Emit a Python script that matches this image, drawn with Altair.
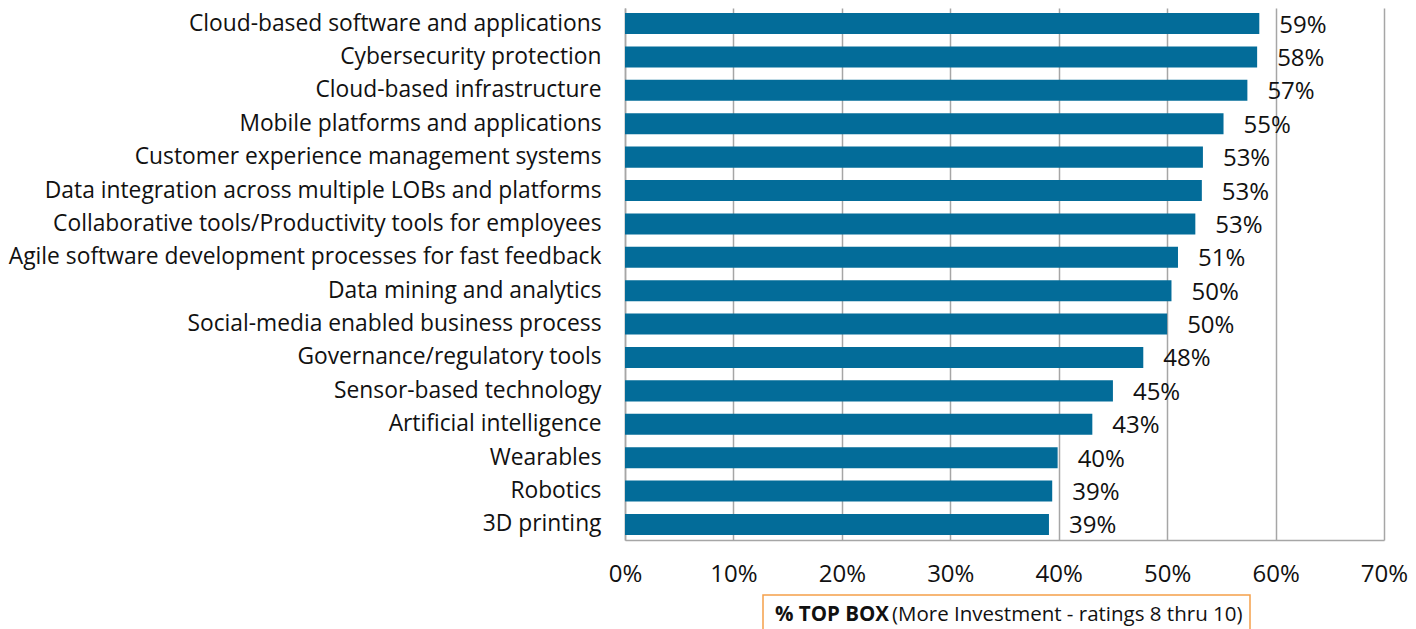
import altair as alt
import pandas as pd

categories = [
    "Cloud-based software and applications",
    "Cybersecurity protection",
    "Cloud-based infrastructure",
    "Mobile platforms and applications",
    "Customer experience management systems",
    "Data integration across multiple LOBs and platforms",
    "Collaborative tools/Productivity tools for employees",
    "Agile software development processes for fast feedback",
    "Data mining and analytics",
    "Social-media enabled business process",
    "Governance/regulatory tools",
    "Sensor-based technology",
    "Artificial intelligence",
    "Wearables",
    "Robotics",
    "3D printing",
]
values = [0.585, 0.583, 0.574, 0.552, 0.533, 0.532, 0.526, 0.510, 0.504, 0.500,
          0.478, 0.450, 0.431, 0.399, 0.394, 0.391]
labels = ["59%", "58%", "57%", "55%", "53%", "53%", "53%", "51%", "50%", "50%",
          "48%", "45%", "43%", "40%", "39%", "39%"]
tick_values = [0, 0.1, 0.2, 0.3, 0.4, 0.5, 0.6, 0.7]
legend_bold_text = "% TOP BOX"
legend_text = "(More Investment - ratings 8 thru 10)"

df = pd.DataFrame({"category": categories, "value": values, "label": labels})
one = pd.DataFrame({"a": [0]})

FONT = "Open Sans"

y_enc = alt.Y("category:N", sort=categories, title=None,
              scale=alt.Scale(paddingInner=0.37, paddingOuter=0.15),
              axis=alt.Axis(labelFontSize=22.8, labelFont=FONT, labelColor="#111111",
                            labelPadding=24, ticks=False, domain=True,
                            domainColor="#A6A6A6", domainWidth=1.5, labelLimit=700))
x_enc = alt.X("value:Q", title=None,
              scale=alt.Scale(domain=[0, 0.7], nice=False),
              axis=alt.Axis(format=".0%", values=tick_values, labelFlush=False,
                            labelFontSize=24, labelFont=FONT, labelColor="#111111",
                            labelPadding=22, ticks=False, grid=True,
                            gridColor="#A6A6A6", gridWidth=1.5,
                            domainColor="#A6A6A6", domainWidth=1.5))

bars = alt.Chart(df).mark_bar(color="#036C99").encode(x=x_enc, y=y_enc)

text = alt.Chart(df).mark_text(align="left", baseline="middle", dx=20, dy=2,
                               fontSize=24, font=FONT, color="#111111").encode(
    x="value:Q", y=alt.Y("category:N", sort=categories), text="label:N")

box = alt.Chart(one).mark_rect(fill="white", stroke="#F5A04A", strokeWidth=1.5).encode(
    x=alt.value(138), x2=alt.value(625), y=alt.value(587), y2=alt.value(640))

legend_bold = alt.Chart(one).mark_text(align="left", baseline="middle", fontSize=20.5,
                                       font=FONT, fontWeight="bold", color="#111111").encode(
    x=alt.value(150), y=alt.value(607), text=alt.value(legend_bold_text))
legend_norm = alt.Chart(one).mark_text(align="left", baseline="middle", fontSize=20.5,
                                       font=FONT, color="#111111").encode(
    x=alt.value(267), y=alt.value(607), text=alt.value(legend_text))

chart = alt.layer(bars, text, box, legend_bold, legend_norm).properties(
    width=759, height=532,
    padding={"left": 617, "top": 0, "right": 24, "bottom": 95},
    autosize=alt.AutoSizeParams(type="none"),
).configure_view(stroke=None)

chart.save("out.html", embed_options={"renderer": "svg", "actions": False})
